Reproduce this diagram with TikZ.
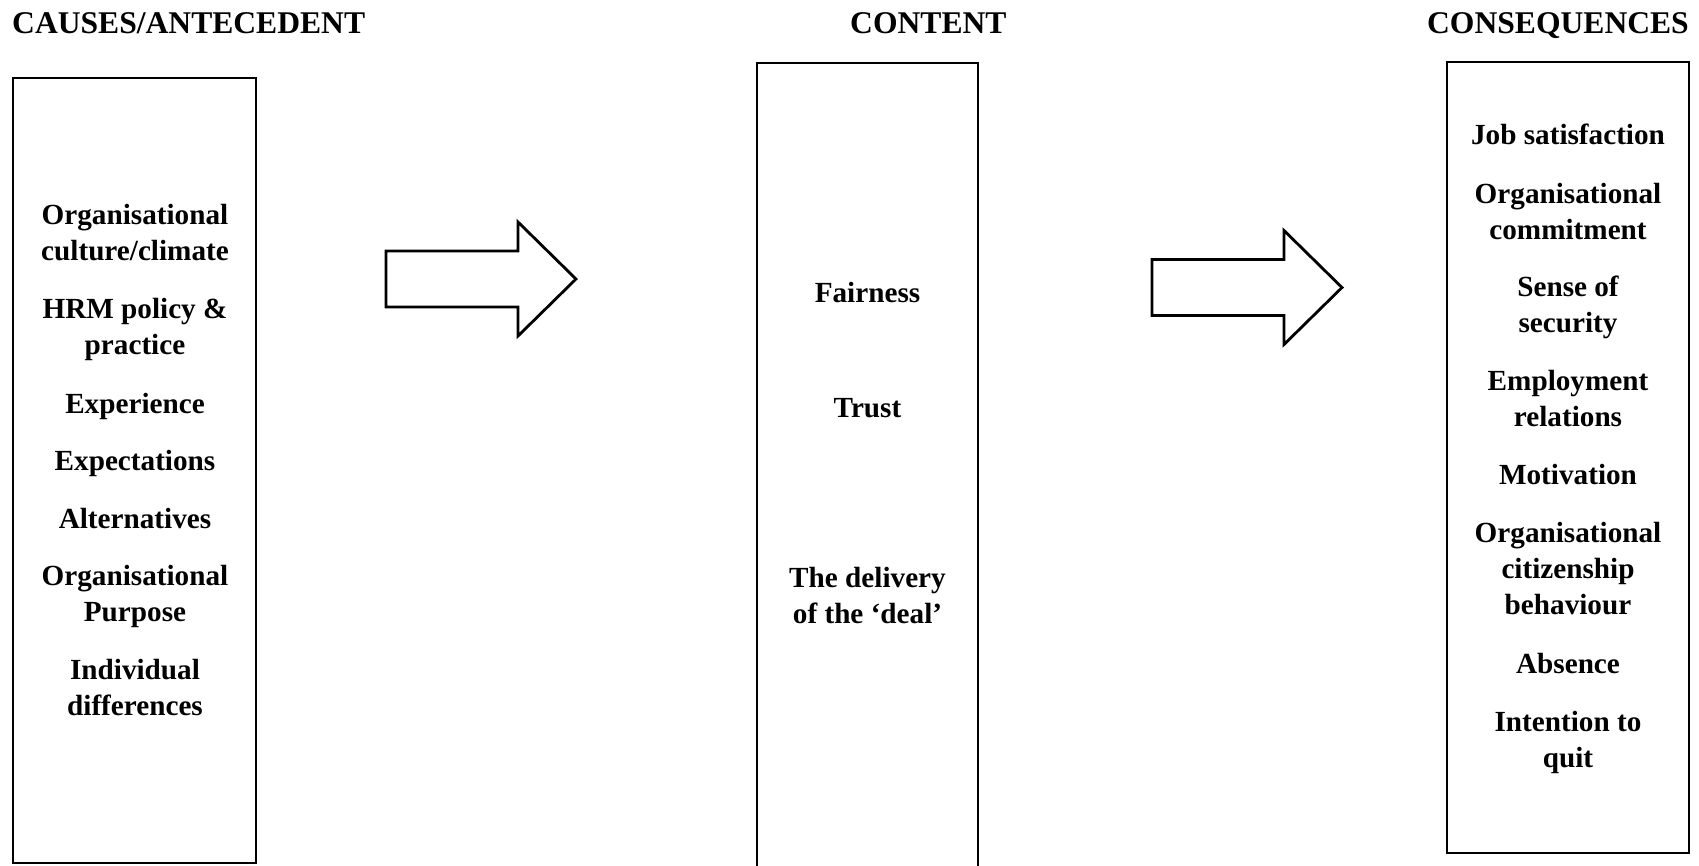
\documentclass[tikz,border=0pt]{standalone}
\usepackage{fontspec}
\setmainfont{Liberation Serif}
\begin{document}
\begin{tikzpicture}[x=1pt,y=-1pt,
  frame/.style={draw=black,line width=2.8pt,rectangle,inner sep=0pt},
  heading/.style={font=\bfseries\fontsize{31.6}{38}\selectfont,inner sep=0pt},
  item/.style={font=\bfseries\fontsize{29.2}{36}\selectfont,align=center,inner sep=0pt,anchor=base},
  arrowline/.style={draw=black,line width=2.8pt,line join=miter,fill=white},
  blockarrow/.pic={\path[arrowline] (0,-28) -- (132,-28) -- (132,-57) -- (190,0)
                     -- (132,57) -- (132,28) -- (0,28) -- cycle;}]
\useasboundingbox (0,0) rectangle (1699,865);
\clip (0,0) rectangle (1699,865);

% column headings
\node[heading,anchor=base west] (hcause) at (12,33) {CAUSES/ANTECEDENT};
\node[heading,anchor=base west] (hcontent) at (850,33) {CONTENT};
\node[heading,anchor=base east] (hconseq) at (1689,33) {CONSEQUENCES};

% the three columns
\node[frame,minimum width=243pt,minimum height=785pt] (causes) at (134.5,470.5) {};
\node[frame,minimum width=221pt,minimum height=830pt] (content) at (867.5,478) {};
\node[frame,minimum width=242pt,minimum height=791pt] (conseq) at (1568,457.5) {};

% block arrows between the columns
\pic (arrowA) at (386,279) {blockarrow};
\pic (arrowB) at (1152,287.5) {blockarrow};

% antecedents (each node sits on the baseline of its last line)
\node[item] (c1) at (135,260) {Organisational\\culture/climate};
\node[item] (c2) at (135,354) {HRM policy \&\\practice};
\node[item] (c3) at (135,413) {Experience};
\node[item] (c4) at (135,470) {Expectations};
\node[item] (c5) at (135,528) {Alternatives};
\node[item] (c6) at (135,621) {Organisational\\Purpose};
\node[item] (c7) at (135,715) {Individual\\differences};

% content
\node[item] (m1) at (867.5,302) {Fairness};
\node[item] (m2) at (867.5,417) {Trust};
\node[item] (m3) at (867.5,623) {The delivery\\of the ‘deal’};

% consequences
\node[item] (q1) at (1568,144) {Job satisfaction};
\node[item] (q2) at (1568,239) {Organisational\\commitment};
\node[item] (q3) at (1568,332) {Sense of\\security};
\node[item] (q4) at (1568,426) {Employment\\relations};
\node[item] (q5) at (1568,484) {Motivation};
\node[item] (q6) at (1568,614) {Organisational\\citizenship\\behaviour};
\node[item] (q7) at (1568,673) {Absence};
\node[item] (q8) at (1568,767) {Intention to\\quit};
\end{tikzpicture}
\end{document}
